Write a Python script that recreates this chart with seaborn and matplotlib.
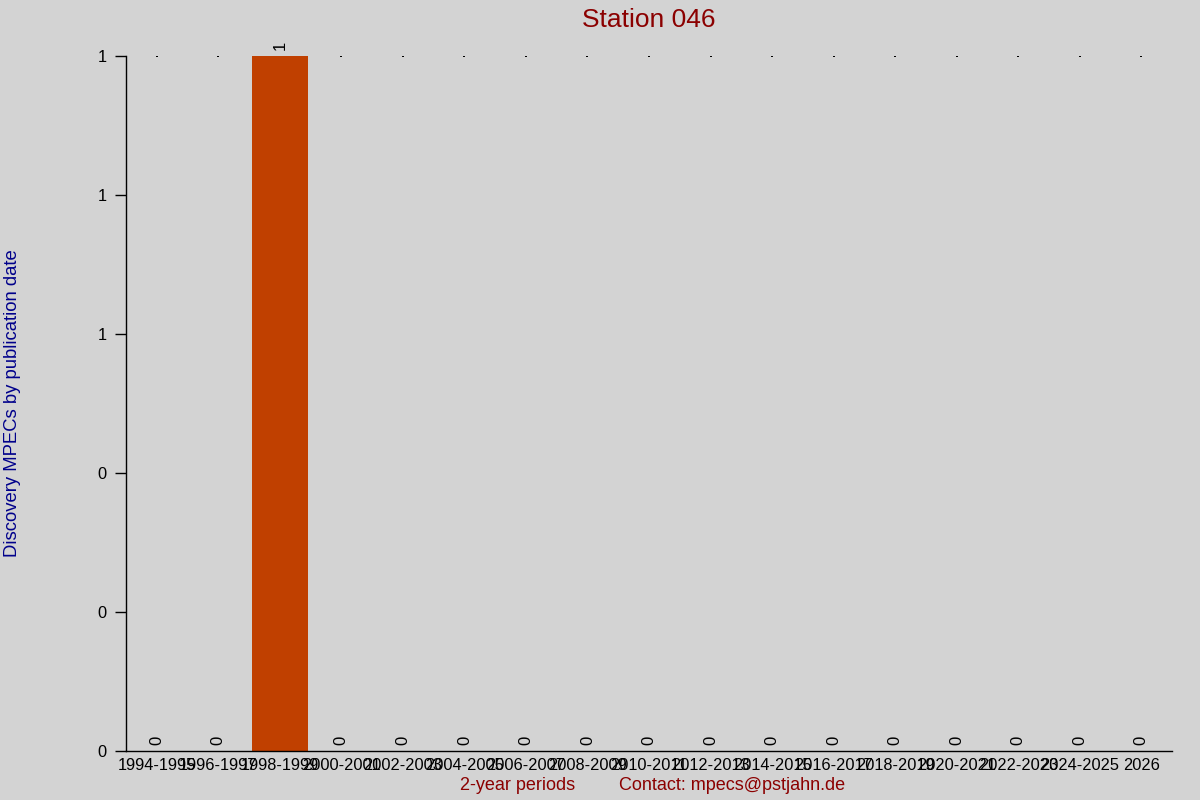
import numpy as np
import matplotlib
matplotlib.use("Agg")
import matplotlib.pyplot as plt
from matplotlib.ticker import FormatStrFormatter
import seaborn as sns

# ---- data ----
periods = ["1994-1995", "1996-1997", "1998-1999", "2000-2001", "2002-2003",
           "2004-2005", "2006-2007", "2008-2009", "2010-2011", "2012-2013",
           "2014-2015", "2016-2017", "2018-2019", "2020-2021", "2022-2023",
           "2024-2025", "2026"]
counts = [0, 0, 1, 0, 0, 0, 0, 0, 0, 0, 0, 0, 0, 0, 0, 0, 0]

title = "Station 046"
y_label = "Discovery MPECs by publication date"
x_label = "2-year periods"
contact = "Contact: mpecs@pstjahn.de"

bg = "#D3D3D3"
bar_color = "#C04000"
red_text = "#8B0000"
blue_text = "#00008B"

sns.set_style("ticks")
plt.rcParams["font.family"] = ["Liberation Sans", "DejaVu Sans"]

fig = plt.figure(figsize=(12, 8), dpi=100, facecolor=bg)
ax = fig.add_axes([0.105, 0.06125, 0.8717, 0.86875])
ax.set_facecolor(bg)

# faint dots at the top of the range
top = max(counts)
ax.scatter(np.arange(len(periods)), np.full(len(periods), top),
           s=1.5, color="black", marker="s", linewidths=0, zorder=1)

sns.barplot(x=periods, y=counts, color=bar_color, width=0.92,
            saturation=1, linewidth=0, ax=ax, zorder=2)
ax.bar_label(ax.containers[0], fmt="%d", rotation=90, padding=4,
             fontsize=12, color="black")

ax.set_xlim(-0.5, len(periods) - 0.5)
ax.set_ylim(0, top)
ax.set_yticks(np.linspace(0, top, 6))
ax.yaxis.set_major_formatter(FormatStrFormatter("%.0f"))

sns.despine(ax=ax)
for s in ["left", "bottom"]:
    ax.spines[s].set_color("black")
    ax.spines[s].set_linewidth(1)
ax.tick_params(axis="x", length=0, labelsize=11.8, pad=5, colors="black")
ax.tick_params(axis="y", length=8, width=1, labelsize=11.8, pad=6, colors="black")

ax.set_xlabel("")
ax.set_ylabel(y_label, color=blue_text, fontsize=13.3)
ax.yaxis.set_label_coords(-0.1, 0.5)
ax.set_title(title, color=red_text, fontsize=19, pad=21)

fig.text(0.431, 0.018, x_label, color=red_text, fontsize=13, ha="center", va="center")
fig.text(0.61, 0.018, contact, color=red_text, fontsize=13, ha="center", va="center")

fig.savefig("out.png", dpi=100, facecolor=bg)
